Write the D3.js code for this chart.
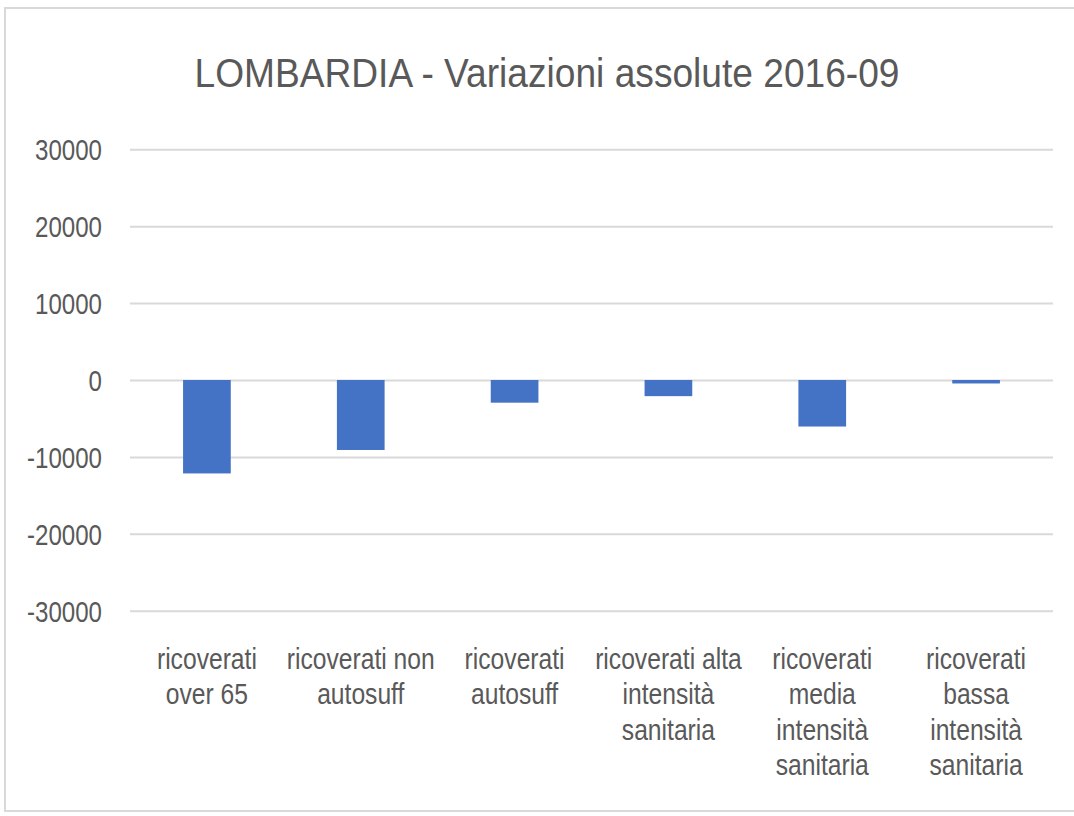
<!DOCTYPE html>
<html>
<head>
    <meta charset="utf-8">
    <title>LOMBARDIA - Variazioni assolute 2016-09</title>
    <style>
        body { margin: 0; background: #fff; }
        text { font-family: "Liberation Sans", "Open Sans", sans-serif; fill: #595959; }
    </style>
</head>
<body>

<main></main>

<script src="https://cdn.jsdelivr.net/npm/d3@7/dist/d3.min.js"></script>
<script>
    // dati
    var categories = [
        "ricoverati\nover 65",
        "ricoverati non\nautosuff",
        "ricoverati\nautosuff",
        "ricoverati alta\nintensità\nsanitaria",
        "ricoverati\nmedia\nintensità\nsanitaria",
        "ricoverati\nbassa\nintensità\nsanitaria"
    ];
    var values = [-12150, -9100, -2950, -2100, -6050, -450];
    var yTicks = [30000, 20000, 10000, 0, -10000, -20000, -30000];
    var title = "LOMBARDIA - Variazioni assolute 2016-09";

    var width = 1074;
    var height = 816;
    var svg = d3.select("main")
        .append("svg")
        .attr("width", width)
        .attr("height", height);

    // cornice
    svg.append("rect")
        .attr("x", 5)
        .attr("y", 8)
        .attr("width", 1090)
        .attr("height", 803)
        .attr("fill", "none")
        .attr("stroke", "#d9d9d9")
        .attr("stroke-width", 2);

    var x = d3.scaleBand()
        .domain(categories)
        .range([130, 1053])
        .paddingInner(0.69)
        .paddingOuter(0.345);

    var y = d3.scaleLinear()
        .domain([-30000, 30000])
        .range([610.7, 149.3]);

    var fs = 29.5;

    // misura larghezza testo per comprimere in orizzontale (font stretto)
    function measure(str) {
        var t = svg.append("text").attr("font-size", fs).text(str);
        var w = t.node().getComputedTextLength();
        t.remove();
        return w;
    }
    var sxTick = 67 / measure("30000");
    var sxCat = 100 / measure("ricoverati");

    // griglia + etichette asse y
    var yAxis = svg.append("g")
        .attr("transform", "translate(130,0)")
        .call(d3.axisLeft(y)
            .tickValues(yTicks)
            .tickSize(-(1053 - 130))
            .tickPadding(28)
            .tickFormat(function (d) { return String(d); }));
    yAxis.select(".domain").remove();
    yAxis.selectAll("line")
        .attr("stroke", "#d9d9d9")
        .attr("stroke-width", 2);
    yAxis.selectAll("text")
        .attr("font-size", fs)
        .attr("fill", "#595959")
        .attr("dy", "0.36em")
        .attr("transform", function () {
            var xx = +d3.select(this).attr("x");
            return "translate(" + xx + ",0) scale(" + sxTick + ",1) translate(" + (-xx) + ",0)";
        });

    // barre
    svg.append("g")
        .selectAll("rect")
        .data(values)
        .enter()
        .append("rect")
        .attr("fill", "#4472c4")
        .attr("x", function (d, i) { return x(categories[i]); })
        .attr("width", x.bandwidth())
        .attr("y", function (d) { return y(Math.max(0, d)); })
        .attr("height", function (d) { return Math.abs(y(d) - y(0)); });

    // etichette categorie
    var lineH = 35.5;
    var cat = svg.append("g")
        .selectAll("g")
        .data(categories)
        .enter()
        .append("g")
        .attr("transform", function (d) {
            return "translate(" + (x(d) + x.bandwidth() / 2) + ",669) scale(" + sxCat + ",1)";
        });
    cat.each(function (d) {
        var lines = d.split("\n");
        var t = d3.select(this).append("text")
            .attr("text-anchor", "middle")
            .attr("font-size", fs);
        lines.forEach(function (l, i) {
            t.append("tspan")
                .attr("x", 0)
                .attr("y", i * lineH)
                .text(l);
        });
    });

    // titolo
    svg.append("text")
        .attr("x", 547)
        .attr("y", 86.7)
        .attr("text-anchor", "middle")
        .attr("font-size", 39.8)
        .attr("textLength", 705)
        .attr("lengthAdjust", "spacingAndGlyphs")
        .text(title);
</script>
</body>
</html>
